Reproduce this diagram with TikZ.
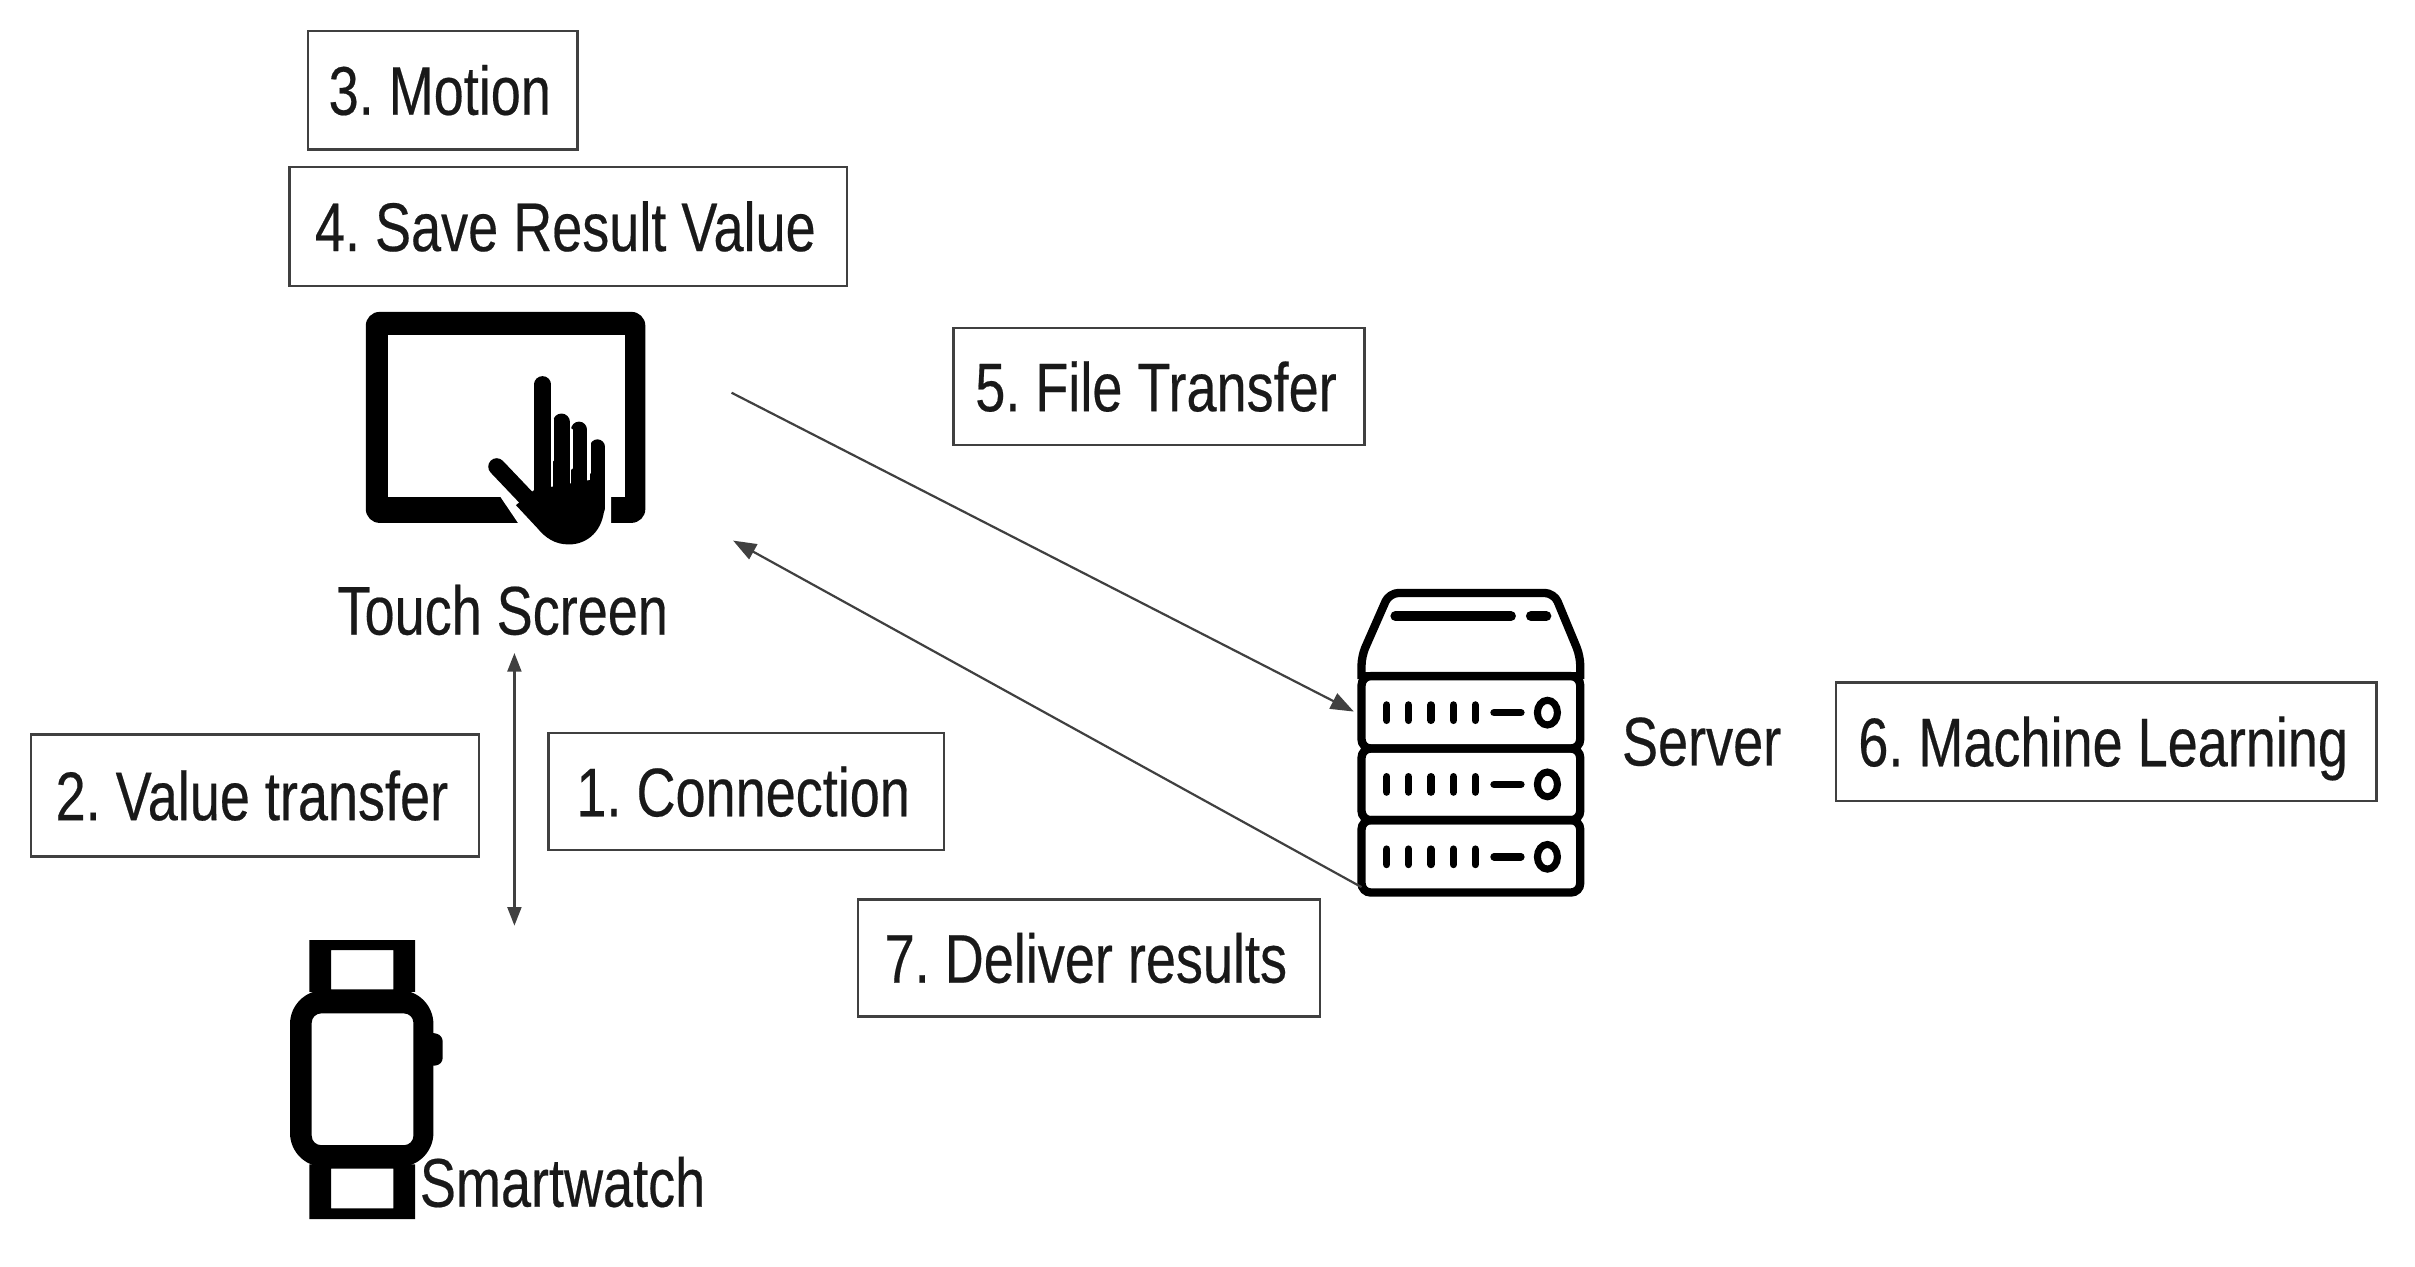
\documentclass[tikz,border=0pt]{standalone}
\usepackage{fontspec}
\setmainfont{Liberation Sans}[FakeStretch=0.785,FakeBold=0.3]
\usetikzlibrary{arrows.meta}
\def\uu{1.5402bp}
\tikzset{
  lbl/.style={inner sep=0pt,font=\fontsize{68.85bp}{83bp}\selectfont\frenchspacing,text=black!90},
  box/.style={lbl,draw=black!75,line width=2.4bp,rectangle,text height=49.3bp,text depth=0pt,execute at end node={\kern 6bp}},
  plain/.style={lbl,anchor=base west},
  conn/.style={draw=black!75,line width=2.2bp},
  icon/.style={fill=black,draw=none},
  sline/.style={draw=black,line width=5.4*\uu},
  pip/.style={draw=black,line width=4.8*\uu,line cap=round},
  gap/.style={draw=white,line width=1.8*\uu,line cap=round},
}
\begin{document}
\begin{tikzpicture}[x=1.5402bp,y=-1.5402bp]
\useasboundingbox[fill=white] (0,0) rectangle (1568,822);
% text boxes
\node[box,minimum width=175*\uu,minimum height=77*\uu] (motion) at (287.5,58.5) {3. Motion};
\node[box,minimum width=362*\uu,minimum height=77*\uu] (save) at (369,147) {4. Save Result Value};
\node[box,minimum width=267*\uu,minimum height=76*\uu] (file) at (752.5,251) {5. File Transfer};
\node[box,minimum width=351*\uu,minimum height=77*\uu] (ml) at (1367.5,481.5) {6. Machine Learning};
\node[box,minimum width=257*\uu,minimum height=76*\uu] (conn) at (484.5,514) {1. Connection};
\node[box,minimum width=291*\uu,minimum height=79*\uu] (value) at (165.5,516.5) {2. Value transfer};
\node[box,minimum width=300*\uu,minimum height=76*\uu] (deliver) at (707,622) {7. Deliver results};
% plain labels
\node[plain] (touchlabel) at (219,412) {Touch Screen};
\node[plain] (serverlabel) at (1053,497) {Server};
\node[plain] (watchlabel) at (272.5,783.5) {Smartwatch};
% tablet icon
\fill[black,rounded corners=9*\uu] (237.5,202.5) rectangle (419,339.5);
\fill[white] (252,217.5) rectangle (405.5,323);
\fill[white] (324.5,322) -- (337,340.5) -- (396.8,340.5) -- (396.8,323) -- (396.8,318) -- (330,318) -- cycle;
% hand
\draw[black,line width=10.6*\uu,line cap=round] (352.3,249.5) -- (352.3,335);
\draw[black,line width=11*\uu,line cap=round] (364.5,274) -- (364.5,335);
\draw[black,line width=10.5*\uu,line cap=round] (376,279) -- (376,335);
\draw[black,line width=9.5*\uu,line cap=round] (387.8,290) -- (387.8,330);
\draw[black,line width=11*\uu,line cap=round] (322.5,303) -- (352,334);
\fill[black] (347,318) -- (392.5,310) -- (392.5,328) .. controls (392,345) and (381,353.5) .. (369.4,353.5)
  .. controls (360,353.5) and (354,349) .. (349,343) -- (335,328) -- cycle;
\draw[gap] (358.5,272) -- (358.5,299);
\draw[gap] (371,279) -- (371,304);
\draw[gap] (382.5,286) -- (382.5,307);
% server icon
\draw[sline,line join=round,rounded corners=6*\uu] (884,441) -- (884,426) -- (902,385) -- (1009,385) -- (1026,426) -- (1026,441);
\draw[sline] (884,439) -- (1026,439);
\foreach \ya/\yb in {439/486,486/532.5,532.5/579.5}
  \draw[sline,rounded corners=6*\uu] (884,\ya) rectangle (1026,\yb);
\draw[line width=6.5*\uu,line cap=round] (906,400) -- (981,400);
\draw[line width=6.5*\uu,line cap=round] (994,400) -- (1004,400);
\foreach \y in {462.7,509.3,556.3}{
  \foreach \x in {900.4,914.5,929,943.7,957.8}
    \draw[pip] (\x,\y-5) -- (\x,\y+5);
  \draw[pip] (970,\y) -- (987.5,\y);
  \draw[line width=4.6*\uu] (1004.7,\y) ellipse (6.5 and 8);
}
% watch icon
\path[icon,even odd rule] (200.8,610.4) rectangle (269.5,644) (215,616.9) rectangle (255.4,642.4);
\path[icon,even odd rule] (200.8,756) rectangle (269.5,791.5) (215,758.7) rectangle (255.4,784.6);
\path[icon,even odd rule,rounded corners=22*\uu] (188.3,642.9) rectangle (281.4,757.6)
  [rounded corners=6*\uu] (202.4,658) rectangle (268.4,743.5);
\fill[black,rounded corners=4*\uu] (278,670) -- (287.4,672) -- (287.4,691) -- (278,692.6) -- cycle;
% connectors
\coordinate (tabout) at (475,255);
\coordinate (srvin) at (879,462);
\coordinate (srvout) at (884,576);
\coordinate (tabin) at (476,351);
\coordinate (tabbot) at (334,424);
\coordinate (wattop) at (334,601);
\draw[conn,-{Stealth[inset=0pt,length=15*\uu,width=11*\uu]}] (tabout) -- (srvin);
\draw[conn,-{Stealth[inset=0pt,length=15*\uu,width=11*\uu]}] (srvout) -- (tabin);
\draw[conn,{Stealth[inset=0pt,length=12*\uu,width=9*\uu]}-{Stealth[inset=0pt,length=12*\uu,width=9*\uu]}] (tabbot) -- (wattop);
\end{tikzpicture}
\end{document}
